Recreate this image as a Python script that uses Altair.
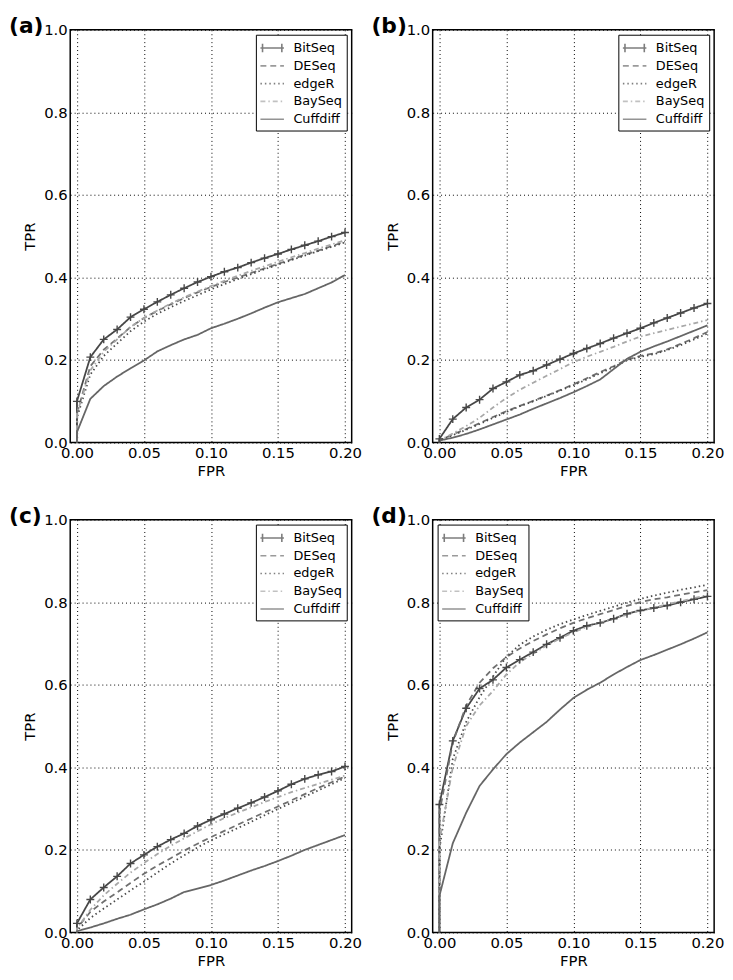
import altair as alt
import pandas as pd

# ---------------- data ----------------
FPR = [0.0, 0.0, 0.01, 0.02, 0.03, 0.04, 0.05, 0.06, 0.07, 0.08, 0.09, 0.10,
       0.11, 0.12, 0.13, 0.14, 0.15, 0.16, 0.17, 0.18, 0.19, 0.20]

METHODS = ["BitSeq", "DESeq", "edgeR", "BaySeq", "Cuffdiff"]
PANELS = ["(a)", "(b)", "(c)", "(d)"]
LEGEND_POS = ["top-right", "top-right", "top-right", "top-left"]

X_TICKS = [0.0, 0.05, 0.10, 0.15, 0.20]
Y_TICKS = [0.0, 0.2, 0.4, 0.6, 0.8, 1.0]

A_BITSEQ = [0, 0.10, 0.207, 0.250, 0.274, 0.304, 0.323, 0.341, 0.358, 0.374, 0.389, 0.402, 0.414, 0.424, 0.436, 0.447, 0.457, 0.468, 0.478, 0.488, 0.499, 0.509]
A_DESEQ = [0, 0.07, 0.185, 0.225, 0.252, 0.280, 0.302, 0.319, 0.335, 0.350, 0.364, 0.377, 0.389, 0.400, 0.411, 0.422, 0.433, 0.444, 0.455, 0.465, 0.476, 0.487]
A_EDGER = [0, 0.06, 0.165, 0.21, 0.24, 0.27, 0.293, 0.312, 0.328, 0.343, 0.357, 0.371, 0.384, 0.396, 0.408, 0.420, 0.431, 0.442, 0.453, 0.464, 0.474, 0.485]
A_BAYSEQ = [0, 0.07, 0.175, 0.22, 0.25, 0.28, 0.302, 0.320, 0.337, 0.352, 0.366, 0.379, 0.392, 0.404, 0.416, 0.427, 0.438, 0.449, 0.459, 0.470, 0.480, 0.490]
A_CUFFDIFF = [0, 0.025, 0.106, 0.137, 0.160, 0.180, 0.199, 0.221, 0.236, 0.250, 0.261, 0.277, 0.288, 0.300, 0.313, 0.327, 0.340, 0.350, 0.360, 0.374, 0.388, 0.406]

B_BITSEQ = [0, 0.009, 0.057, 0.085, 0.104, 0.131, 0.147, 0.164, 0.174, 0.188, 0.202, 0.216, 0.228, 0.240, 0.253, 0.265, 0.277, 0.290, 0.302, 0.314, 0.326, 0.337]
B_DESEQ = [0, 0.005, 0.02, 0.033, 0.047, 0.062, 0.076, 0.089, 0.101, 0.114, 0.127, 0.141, 0.156, 0.171, 0.185, 0.201, 0.210, 0.216, 0.226, 0.239, 0.253, 0.268]
B_EDGER = [0, 0.005, 0.018, 0.031, 0.045, 0.060, 0.074, 0.088, 0.100, 0.113, 0.126, 0.139, 0.153, 0.168, 0.183, 0.199, 0.208, 0.214, 0.224, 0.236, 0.250, 0.264]
B_BAYSEQ = [0, 0.005, 0.022, 0.04, 0.06, 0.085, 0.108, 0.128, 0.145, 0.162, 0.178, 0.195, 0.208, 0.220, 0.232, 0.245, 0.257, 0.265, 0.273, 0.281, 0.289, 0.297]
B_CUFFDIFF = [0, 0.005, 0.012, 0.021, 0.032, 0.044, 0.056, 0.068, 0.082, 0.095, 0.108, 0.122, 0.137, 0.153, 0.178, 0.203, 0.220, 0.233, 0.245, 0.258, 0.271, 0.284]

C_BITSEQ = [0, 0.022, 0.080, 0.109, 0.136, 0.167, 0.188, 0.208, 0.225, 0.240, 0.258, 0.273, 0.287, 0.301, 0.314, 0.328, 0.343, 0.359, 0.372, 0.382, 0.390, 0.402]
C_DESEQ = [0, 0.01, 0.05, 0.075, 0.097, 0.12, 0.142, 0.162, 0.18, 0.198, 0.215, 0.231, 0.246, 0.261, 0.276, 0.291, 0.305, 0.32, 0.335, 0.35, 0.364, 0.378]
C_EDGER = [0, 0.005, 0.035, 0.058, 0.08, 0.102, 0.123, 0.145, 0.167, 0.187, 0.206, 0.223, 0.238, 0.253, 0.268, 0.284, 0.299, 0.314, 0.329, 0.344, 0.359, 0.374]
C_BAYSEQ = [0, 0.01, 0.055, 0.09, 0.118, 0.145, 0.168, 0.19, 0.21, 0.228, 0.245, 0.262, 0.277, 0.29, 0.303, 0.316, 0.328, 0.34, 0.35, 0.36, 0.37, 0.38]
C_CUFFDIFF = [0, 0.003, 0.012, 0.022, 0.033, 0.043, 0.056, 0.068, 0.082, 0.098, 0.106, 0.115, 0.126, 0.138, 0.150, 0.161, 0.173, 0.186, 0.200, 0.212, 0.224, 0.236]

D_BITSEQ = [0, 0.310, 0.464, 0.543, 0.591, 0.612, 0.642, 0.661, 0.679, 0.698, 0.714, 0.731, 0.743, 0.750, 0.760, 0.772, 0.780, 0.786, 0.792, 0.800, 0.807, 0.814]
D_DESEQ = [0, 0.29, 0.46, 0.55, 0.605, 0.64, 0.667, 0.688, 0.706, 0.722, 0.737, 0.750, 0.761, 0.771, 0.781, 0.791, 0.800, 0.807, 0.812, 0.818, 0.824, 0.829]
D_EDGER = [0, 0.2, 0.42, 0.51, 0.57, 0.62, 0.668, 0.697, 0.717, 0.733, 0.747, 0.758, 0.769, 0.779, 0.789, 0.799, 0.808, 0.816, 0.823, 0.830, 0.836, 0.842]
D_BAYSEQ = [0, 0.22, 0.40, 0.50, 0.55, 0.585, 0.625, 0.655, 0.675, 0.695, 0.712, 0.727, 0.74, 0.75, 0.76, 0.77, 0.78, 0.787, 0.795, 0.802, 0.81, 0.817]
D_CUFFDIFF = [0, 0.088, 0.216, 0.29, 0.355, 0.395, 0.432, 0.46, 0.485, 0.51, 0.54, 0.568, 0.588, 0.605, 0.625, 0.643, 0.66, 0.672, 0.685, 0.698, 0.712, 0.727]

PANEL_DATA = [
    [A_BITSEQ, A_DESEQ, A_EDGER, A_BAYSEQ, A_CUFFDIFF],
    [B_BITSEQ, B_DESEQ, B_EDGER, B_BAYSEQ, B_CUFFDIFF],
    [C_BITSEQ, C_DESEQ, C_EDGER, C_BAYSEQ, C_CUFFDIFF],
    [D_BITSEQ, D_DESEQ, D_EDGER, D_BAYSEQ, D_CUFFDIFF],
]

# ---------------- styles ----------------
COLORS = ["#474747", "#707070", "#4a4a4a", "#a8a8a8", "#666666"]
DASHES = [[1, 0], [6, 4], [1.5, 3], [5, 3, 1.5, 3], [1, 0]]
PLUS = "M-1,0H1M0,-1V1"
LEG_LINE = "M-1.4,0H1.4"
LEG_BITSEQ = "M-1.4,0H1.4M-1.15,-0.5V0.5M1.15,-0.5V0.5"
LEG_SHAPES = [LEG_BITSEQ, LEG_LINE, LEG_LINE, LEG_LINE, LEG_LINE]

PW, PH = 285, 418


def panel(i):
    rows = []
    for m, vals in zip(METHODS, PANEL_DATA[i]):
        for step, (x, y) in enumerate(zip(FPR, vals)):
            rows.append({"method": m, "fpr": x, "tpr": y, "step": step})
    df = pd.DataFrame(rows)

    leg = alt.Legend(
        title=None,
        orient=LEGEND_POS[i],
        offset=5,
        padding=4,
        rowPadding=1,
        labelOffset=12,
        symbolOffset=3,
        strokeColor="black",
        fillColor="white",
        symbolType=LEG_LINE,
        symbolSize=289,
        symbolStrokeWidth=1.6,
        symbolFillColor="transparent",
        labelFontSize=13,
        labelFont="DejaVu Sans",
        labelColor="black",
    )

    xenc = alt.X("fpr:Q",
                 scale=alt.Scale(domain=[-0.005, 0.205], nice=False, zero=False),
                 axis=alt.Axis(values=X_TICKS, format=".2f", title="FPR"))
    yenc = alt.Y("tpr:Q",
                 scale=alt.Scale(domain=[0, 1], nice=False),
                 axis=alt.Axis(values=Y_TICKS, format=".1f", title="TPR"))
    cenc = alt.Color("method:N", scale=alt.Scale(domain=METHODS, range=COLORS), legend=leg)
    denc = alt.StrokeDash("method:N", scale=alt.Scale(domain=METHODS, range=DASHES), legend=leg)

    base = alt.Chart(df)
    lines = base.mark_line(strokeWidth=1.8, clip=True).encode(
        x=xenc, y=yenc, color=cenc, strokeDash=denc, order="step:Q",
    )
    # legend-only layer: gives the BitSeq legend symbol its "+" ends
    legend_shapes = base.transform_filter("false").mark_point(
        filled=False, strokeWidth=1.6
    ).encode(
        x="fpr:Q", y="tpr:Q", color=cenc, strokeDash=denc,
        shape=alt.Shape("method:N", scale=alt.Scale(domain=METHODS, range=LEG_SHAPES), legend=leg),
    )
    marks = base.transform_filter(
        "datum.method === 'BitSeq' && datum.step > 0"
    ).mark_point(shape=PLUS, size=64, filled=False, strokeWidth=1.4,
                 color="#474747", opacity=1).encode(x="fpr:Q", y="tpr:Q")
    label = alt.Chart(pd.DataFrame({"label": [PANELS[i]]})).mark_text(
        align="left", baseline="middle", fontSize=22, fontWeight="bold",
        font="DejaVu Sans", color="black"
    ).encode(x=alt.value(-62), y=alt.value(-4), text="label:N")

    return alt.layer(lines, legend_shapes, marks, label).properties(width=PW, height=PH)


def row(a, b):
    return alt.hconcat(panel(a), panel(b), spacing=8).resolve_scale(
        color="independent", strokeDash="independent", shape="independent"
    ).resolve_legend(color="independent", strokeDash="independent", shape="independent")


chart = alt.vconcat(row(0, 1), row(2, 3), spacing=25).resolve_scale(
    color="independent", strokeDash="independent", shape="independent"
).resolve_legend(
    color="independent", strokeDash="independent", shape="independent"
).properties(
    padding=0
).configure_view(
    stroke="black", strokeWidth=1.5
).configure_axis(
    grid=True, gridColor="black", gridDash=[1, 3], gridOpacity=1, gridWidth=1,
    domain=False, ticks=False,
    labelFont="DejaVu Sans", labelFontSize=15, labelColor="black", labelPadding=3,
    titleFont="DejaVu Sans", titleFontSize=15, titleFontWeight="normal",
    titleColor="black",
).configure_axisY(titlePadding=6).configure_axisX(titlePadding=3)

chart.save("out.html", embed_options={"renderer": "svg", "actions": False})
